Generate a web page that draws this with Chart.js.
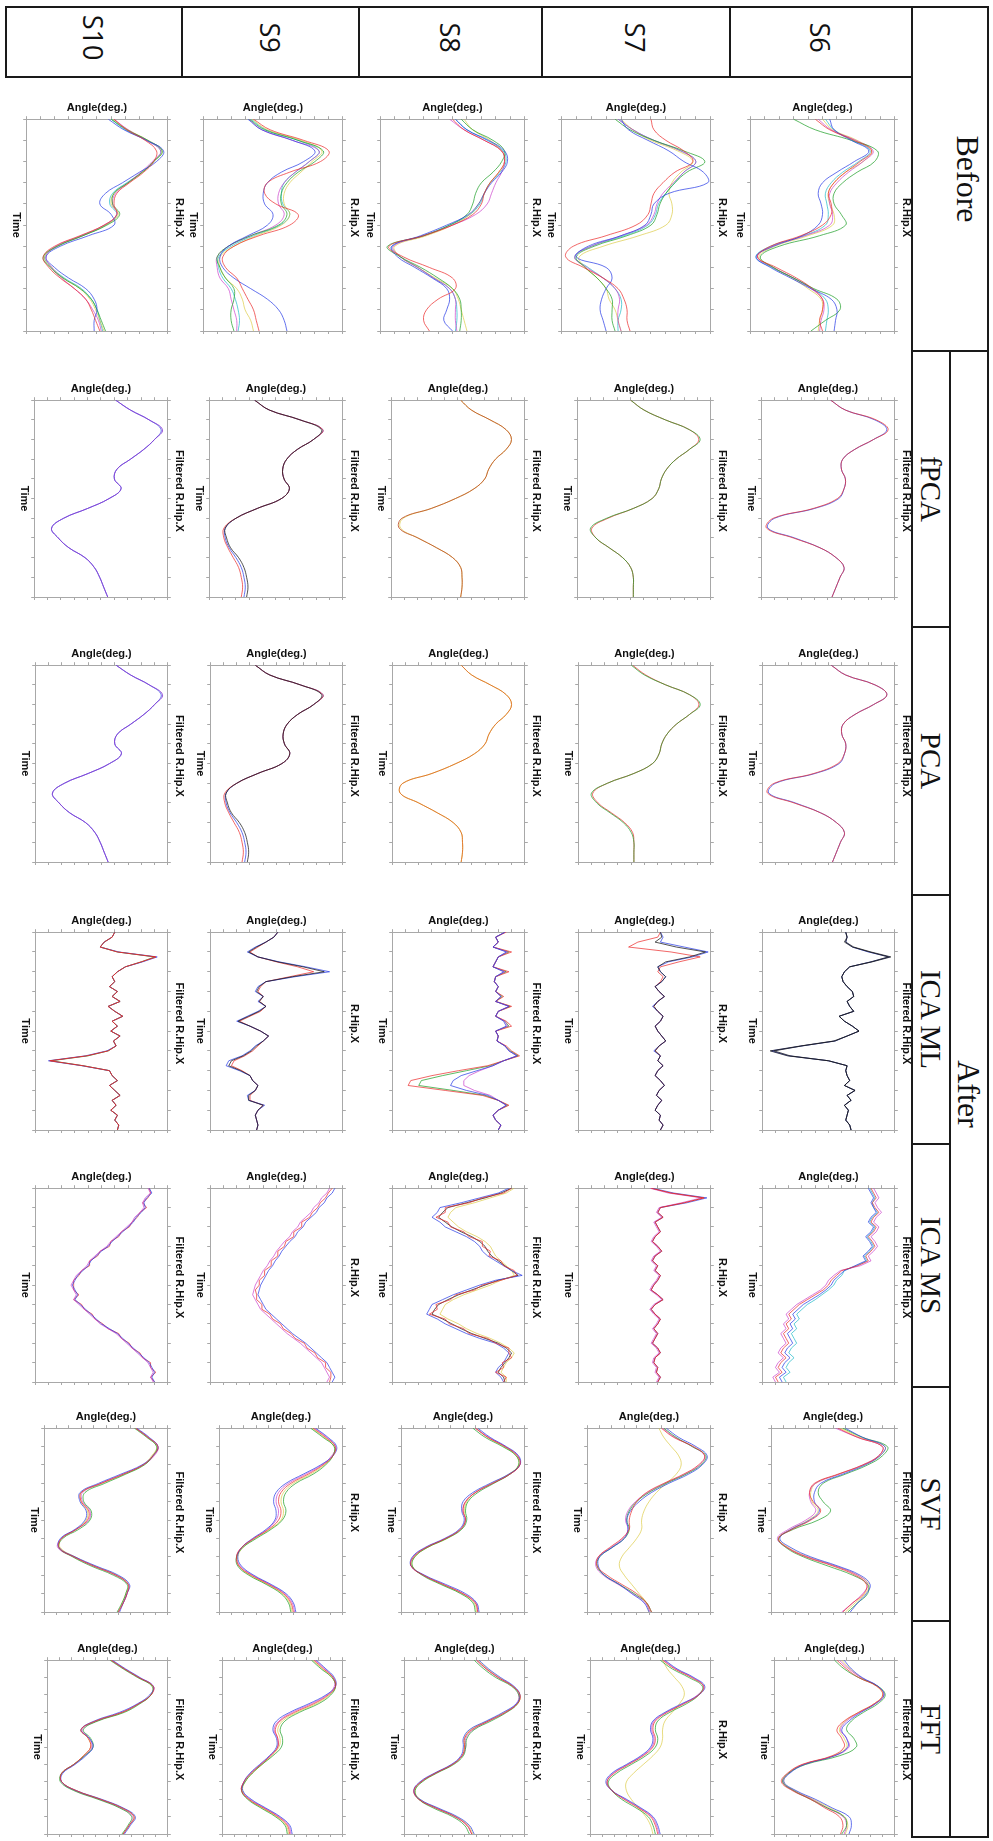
<!DOCTYPE html>
<html><head><meta charset="utf-8">
<script src="https://cdn.jsdelivr.net/npm/chart.js@4.4.1/dist/chart.umd.min.js"></script>
<style>
html,body{margin:0;padding:0;background:#fff;width:993px;height:1841px;overflow:hidden}
#land{position:absolute;left:0;top:0;width:1841px;height:993px;transform-origin:0 0;transform:translate(993px,0) rotate(90deg);background:#fff}
.cell{position:absolute;box-sizing:border-box;border:2px solid #1a1a1a;display:flex;justify-content:center;color:#111}
.serif{font-family:'Liberation Serif','DejaVu Serif',serif}
.sans{font-family:'Open Sans','Liberation Sans',sans-serif}
canvas{position:absolute}
</style></head><body><div id="land"></div>
<script>
// ---------- labels ----------
const subjects = ['S6','S7','S8','S9','S10'];
const methods = ['Before','fPCA','PCA','ICA ML','ICA MS','SVF','FFT'];
const groupHeaders = ['Before','After'];
const beforeTitles = ['R.Hip.X','R.Hip.X','R.Hip.X','R.Hip.X','R.Hip.X'];
const fpcaTitles = ['Filtered R.Hip.X','Filtered R.Hip.X','Filtered R.Hip.X','Filtered R.Hip.X','Filtered R.Hip.X'];
const pcaTitles = ['Filtered R.Hip.X','Filtered R.Hip.X','Filtered R.Hip.X','Filtered R.Hip.X','Filtered R.Hip.X'];
const icaMlTitles = ['Filtered R.Hip.X','R.Hip.X','Filtered R.Hip.X','R.Hip.X','Filtered R.Hip.X'];
const icaMsTitles = ['Filtered R.Hip.X','R.Hip.X','Filtered R.Hip.X','R.Hip.X','Filtered R.Hip.X'];
const svfTitles = ['Filtered R.Hip.X','R.Hip.X','Filtered R.Hip.X','R.Hip.X','Filtered R.Hip.X'];
const fftTitles = ['Filtered R.Hip.X','R.Hip.X','Filtered R.Hip.X','Filtered R.Hip.X','Filtered R.Hip.X'];
const xAxisTitle = 'Time';
const yAxisTitle = 'Angle(deg.)';

// ---------- series colours (first series is drawn on top) ----------
const palette = {
  red:'rgba(235,45,45,0.72)', blue:'rgba(40,60,230,0.72)', green:'rgba(30,160,40,0.72)',
  magenta:'rgba(200,50,200,0.65)', yellow:'rgba(215,195,40,0.6)', cyan:'rgba(30,185,200,0.7)',
  black:'rgba(25,25,25,0.75)', orange:'rgba(225,105,35,0.85)', redSolid:'rgba(230,45,40,0.95)',
  purple:'rgba(140,60,210,0.85)', brown:'rgba(190,80,40,0.85)'
};
const multiColors = ['red','blue','green','magenta','yellow','cyan'];
const fpcaColors = [['red','blue'],['green','red'],['brown','yellow'],['black','red','blue'],['purple','blue']];
const pcaColors = [['red','blue'],['green','red'],['orange','yellow'],['black','red','blue'],['purple','blue']];
const icaMlColors = [['black','black','blue'],['black','blue','red'],['blue','magenta','red','green'],['black','blue','red'],['redSolid','blue','green']];
const icaMsColors = [['red','blue','magenta','cyan'],['redSolid','blue','magenta'],['red','blue','yellow','black'],['red','blue','magenta'],['blue','magenta','red']];
const svfColors = [multiColors, ['red','blue','green','magenta','yellow'], multiColors, multiColors, multiColors];
const fftColors = [multiColors, ['red','blue','green','yellow','magenta'], multiColors, multiColors, multiColors];
const beforeColors = [multiColors, multiColors, multiColors, multiColors, multiColors];

// ---------- Before (R.Hip.X, 21 samples over the gait cycle) ----------
const s6Before = [
 [45,55,72,84,76,66,58,54,56,56,50,35,14,5,18,32,43,50,50,48,50],
 [55,58,70,82,72,60,50,47,49,50,47,36,16,4,14,28,42,56,60,59,58],
 [30,45,70,88,86,74,64,58,58,63,66,48,20,7,16,30,44,60,62,52,42],
 [47,56,73,85,78,68,60,55,55,57,55,38,15,5,16,30,42,50,51,49,48],
 [50,57,74,84,78,66,58,54,55,58,57,40,17,6,16,29,40,49,50,48,47],
 [52,58,71,83,75,64,56,52,53,54,52,37,14,4,15,30,43,52,54,53,52]];
const s7Before = [
 [60,62,70,82,88,76,68,62,60,58,50,30,8,3,15,28,38,42,44,44,46],
 [40,45,58,72,82,95,98,72,62,60,56,40,18,10,30,34,30,27,26,28,30],
 [36,46,62,82,96,84,76,70,66,64,60,44,22,10,16,24,30,34,34,34,36],
 [38,48,62,80,90,82,75,68,64,62,57,40,20,9,17,28,36,39,38,38,40],
 [40,48,60,78,88,80,74,72,74,74,70,52,28,12,16,24,30,32,36,38,40],
 [38,48,62,80,90,82,76,70,65,63,58,42,20,9,18,28,36,40,40,38,38]];
const s8Before = [
 [50,58,72,84,86,82,76,72,70,64,50,30,6,16,34,50,52,40,32,30,34],
 [52,60,75,86,88,84,77,72,68,61,46,28,8,12,24,36,46,48,46,44,50],
 [56,64,78,86,84,78,70,66,64,60,48,30,5,14,28,40,50,55,56,56,55],
 [48,58,72,84,86,84,80,77,74,66,50,30,9,14,26,37,48,52,52,52,53],
 [58,64,76,84,86,82,76,72,68,62,50,32,10,14,26,38,50,54,56,58,60],
 [52,60,74,85,87,83,76,72,69,62,48,30,8,14,26,37,48,52,53,53,52]];
const s9Before = [
 [36,48,72,90,84,62,46,44,52,68,62,40,22,14,16,24,28,32,36,38,40],
 [32,42,64,80,72,56,46,43,44,50,46,32,18,12,14,22,34,46,54,58,60],
 [33,44,68,86,80,68,60,56,56,60,54,34,18,10,12,16,22,22,20,20,22],
 [33,42,64,83,76,66,58,54,54,58,52,34,18,10,10,12,18,20,22,24,24],
 [35,46,70,85,78,70,62,58,58,62,56,38,22,12,12,16,24,28,30,34,36],
 [34,45,68,83,76,66,58,56,57,62,55,36,20,11,11,14,20,23,25,26,25]];
const s10Before = [
 [62,71,84,92,90,83,73,64,62,64,55,38,20,12,16,24,34,42,46,49,52],
 [58,69,85,97,92,80,68,56,52,60,62,44,24,14,20,30,42,48,50,48,48],
 [60,71,86,96,90,82,72,62,61,66,57,40,22,12,17,26,38,46,50,53,56],
 [62,72,85,95,89,81,72,63,61,64,55,39,21,14,18,25,34,42,47,51,53],
 [61,72,86,96,90,82,72,62,60,65,56,40,22,13,18,26,38,45,49,52,55],
 [60,70,85,95,90,82,71,61,59,64,56,40,22,13,18,27,39,46,50,52,54]];

// ---------- fPCA ----------
const s6Fpca = [
 [52,63,86,95,84,70,61,60,63,62,57,39,9,4,24,44,56,62,59,56,53],
 [52,63,85,94,84,70,61,60,63,62,58,40,10,5,25,44,56,62,59,56,53]];
const s7Fpca = [
 [40,50,66,84,92,84,74,67,63,61,56,42,22,10,14,24,34,40,42,42,42],
 [40,50,66,84,91,84,74,67,63,61,56,42,23,11,14,24,34,40,42,42,42]];
const s8Fpca = [
 [52,60,74,86,90,86,78,73,70,62,48,30,8,6,20,34,46,52,53,53,52],
 [52,60,74,86,90,86,78,73,70,62,48,30,9,7,20,34,46,52,53,53,52]];
const s9Fpca = [
 [34,45,68,84,78,66,58,55,56,60,54,36,20,12,13,16,22,26,28,29,28],
 [34,45,68,85,78,66,58,55,56,60,54,36,20,11,11,14,18,22,24,25,24],
 [34,45,68,85,78,66,58,55,56,60,54,36,20,12,12,15,20,24,26,27,26]];
const s10Fpca = [
 [61,72,86,96,90,82,72,62,60,65,56,40,22,13,18,26,38,45,49,52,55],
 [61,72,86,95,90,82,72,62,60,65,56,40,22,13,18,26,38,45,49,52,55]];

// ---------- PCA ----------
const s6Pca = [
 [52,63,85,94,84,70,61,60,63,62,57,39,9,4,24,44,56,62,59,56,53],
 [52,63,85,94,84,70,61,60,63,62,58,40,10,5,25,44,56,62,59,56,53]];
const s7Pca = [
 [40,50,66,84,92,84,74,67,63,61,56,42,22,10,14,24,34,40,42,42,42],
 [41,51,66,84,91,84,74,67,63,61,56,42,22,11,15,25,35,41,42,42,42]];
const s8Pca = [
 [52,60,74,86,90,86,78,73,70,62,48,30,8,6,20,34,46,52,53,53,52],
 [52,60,74,86,90,86,78,73,70,62,48,30,8,6,20,34,46,52,53,53,52]];
const s9Pca = [
 [34,45,68,84,78,66,58,55,56,60,54,36,20,12,13,16,22,26,28,29,28],
 [34,45,68,85,78,66,58,55,56,60,54,36,20,11,11,14,18,22,24,25,24],
 [34,45,68,85,78,66,58,55,56,60,54,36,20,12,12,15,20,24,26,27,26]];
const s10Pca = [
 [61,72,86,96,90,82,72,62,60,65,56,40,22,13,18,26,38,45,49,52,55],
 [61,72,86,95,90,82,72,62,60,65,56,40,22,13,18,26,38,45,49,52,55]];

// ---------- ICA ML (41 samples) ----------
const s6IcaMl = [
 [63,64,62,68,81,95,82,66,62,60,61,64,68,69,64,66,69,58,62,68,73,64,55,30,9,21,50,64,63,64,66,62,70,64,67,62,65,64,63,66,67],
 [63,64,63,69,82,97,83,66,62,60,61,64,68,69,64,66,69,58,62,68,73,64,54,29,6,19,50,64,63,64,66,62,70,64,67,62,65,64,63,66,67],
 [63,64,63,68,80,96,82,66,62,60,61,64,68,69,64,66,69,58,62,68,73,64,55,30,7,20,50,64,63,64,66,62,70,64,67,62,65,64,63,66,67]];
const s7IcaMl = [
 [62,63,58,74,96,84,66,60,62,66,63,58,61,65,60,57,60,64,62,58,60,63,66,61,58,62,60,64,60,58,62,65,61,59,63,60,58,62,61,64,62],
 [62,64,62,80,98,86,68,60,62,66,63,58,61,65,60,56,60,64,62,58,60,63,66,61,57,62,60,64,60,58,62,65,61,59,63,60,58,62,61,64,62],
 [62,60,45,38,70,92,76,62,60,64,62,58,61,65,60,57,60,64,62,58,60,63,66,61,58,62,60,64,60,58,62,65,61,59,63,60,58,62,61,64,62]];
const s8IcaMl = [
 [85,78,80,76,86,80,78,76,84,78,77,80,78,82,78,88,80,78,84,86,78,80,79,85,88,94,84,76,64,52,46,44,56,72,80,86,80,76,78,82,80],
 [85,78,80,76,87,80,78,76,85,78,77,80,78,82,78,88,80,78,85,87,78,80,79,85,88,94,84,76,66,58,54,54,62,74,80,86,80,76,78,82,80],
 [86,78,80,76,90,80,78,76,88,78,77,80,78,84,78,90,80,78,86,90,78,80,79,86,90,96,84,72,50,30,14,12,40,68,80,88,80,76,78,82,80],
 [85,78,80,76,88,80,78,76,86,78,77,80,78,83,78,89,80,78,85,88,78,80,79,85,89,95,84,74,56,38,22,20,46,70,80,87,80,76,78,82,80]];
const s9IcaMl = [
 [51,48,42,35,29,36,51,70,86,62,42,37,35,40,37,42,37,29,21,30,38,44,40,35,31,25,16,14,23,30,32,36,34,29,29,40,36,34,35,36,35],
 [51,48,42,34,28,36,52,72,90,64,42,36,34,40,36,42,36,28,20,30,38,44,40,34,30,24,14,12,22,30,32,36,34,28,29,41,36,34,35,36,35],
 [51,48,42,36,30,36,50,66,78,60,42,38,36,40,37,42,38,30,22,30,38,44,40,36,32,26,18,16,24,30,32,36,34,30,30,40,36,34,35,36,35]];
const s10IcaMl = [
 [60,58,52,49,62,91,80,68,62,58,60,56,62,58,64,55,60,66,58,62,57,64,59,61,55,39,11,36,56,58,62,56,60,64,58,61,57,62,60,63,62],
 [60,58,52,49,63,92,81,68,62,58,60,56,62,58,64,55,60,66,58,62,57,64,59,61,54,38,10,35,56,58,62,56,60,64,58,61,57,62,60,63,62],
 [60,58,52,49,62,90,80,68,62,58,60,56,62,58,64,55,60,66,58,62,57,64,59,61,55,40,12,36,56,58,62,56,60,64,58,61,57,62,60,63,62]];

// ---------- ICA MS (41 samples) ----------
const s6IcaMs = [
 [82,84,86,83,85,88,84,82,86,84,80,83,85,82,78,80,72,60,56,52,50,46,40,34,28,24,20,22,18,20,16,18,20,16,14,18,14,12,15,10,12],
 [80,82,84,82,84,86,82,80,84,82,78,81,83,80,76,78,70,62,58,54,52,48,43,37,31,27,23,25,21,23,19,21,23,19,17,21,17,15,18,13,15],
 [84,86,88,85,87,90,86,84,88,86,82,85,87,84,80,82,74,59,54,50,48,44,38,32,26,22,18,20,16,18,14,16,18,14,12,16,12,10,13,8,10],
 [81,83,85,83,84,87,83,81,85,83,79,82,84,81,77,79,71,62,60,56,54,50,45,40,34,30,26,28,24,26,22,24,26,22,20,24,20,18,21,16,18]];
const s7IcaMs = [
 [55,70,95,80,62,60,64,58,60,62,58,56,60,63,58,56,60,58,62,60,57,55,60,64,58,55,58,62,60,57,60,58,56,60,62,58,57,60,59,62,60],
 [56,72,97,82,62,60,64,58,60,62,58,56,60,63,58,56,60,58,62,60,57,55,60,64,58,55,58,62,60,57,60,58,56,60,62,58,57,60,59,62,60],
 [54,68,93,78,61,59,63,57,59,61,57,55,59,62,57,55,59,57,61,59,56,54,59,63,57,54,57,61,59,56,59,57,55,59,61,57,56,59,58,61,59]];
const s8IcaMs = [
 [90,84,68,58,40,40,33,42,44,54,58,68,68,74,73,82,84,92,94,82,68,62,48,44,33,34,28,40,43,54,58,72,78,88,88,90,83,84,78,86,84],
 [88,80,66,52,36,34,30,36,40,48,56,62,66,68,72,78,84,90,98,78,66,56,46,38,30,28,26,34,40,48,56,66,78,84,88,86,84,80,78,82,84],
 [92,86,74,62,48,44,42,46,50,56,64,70,74,76,78,82,86,90,92,82,74,64,54,46,40,38,36,42,50,56,64,74,82,88,92,90,86,84,82,86,86],
 [90,82,70,56,42,38,35,40,45,52,60,66,70,72,75,80,85,90,95,80,70,60,50,42,35,32,30,38,45,52,60,70,80,86,90,88,85,82,80,84,85]];
const s9IcaMs = [
 [92,89,87,83,81,77,75,69,69,63,63,57,56,51,51,46,46,41,41,37,37,34,35,35,39,39,45,47,53,55,61,64,71,73,79,81,87,87,91,91,90],
 [94,92,88,86,82,80,76,72,70,66,64,60,57,54,52,49,47,44,42,40,38,37,36,38,40,42,46,50,54,58,62,67,72,76,80,84,88,90,92,94,92],
 [90,88,84,82,78,76,72,68,66,62,60,56,53,50,48,45,43,40,38,36,34,33,32,34,36,38,42,46,50,54,58,63,68,72,76,80,84,86,88,90,88]];
const s10IcaMs = [
 [86,88,84,82,83,80,76,74,70,66,62,58,55,50,46,42,40,36,32,30,28,30,32,30,34,38,42,46,50,56,62,66,70,74,78,82,86,88,90,88,90],
 [85,87,83,81,82,79,75,73,69,65,61,57,54,49,45,41,39,35,31,29,27,29,31,29,33,37,41,45,49,55,61,65,69,73,77,81,85,87,89,87,89],
 [86,87,85,81,84,79,77,73,71,65,63,57,56,49,47,41,41,35,33,29,29,29,33,29,35,37,43,45,51,55,63,65,71,73,79,81,87,87,91,87,90]];

// ---------- SVF ----------
const s6Svf = [
 [54,70,90,87,74,54,35,31,34,40,32,17,6,13,28,50,68,77,75,66,58],
 [60,74,92,88,76,58,40,35,35,39,31,16,7,16,32,54,72,80,77,70,64],
 [58,74,94,90,78,60,42,38,42,48,38,18,6,12,26,46,66,78,78,70,62],
 [52,70,90,87,74,55,36,31,32,36,28,14,5,13,29,52,70,78,74,66,57],
 [56,72,92,88,75,55,36,32,33,38,30,16,6,14,30,52,70,79,76,68,60]];
const s7Svf = [
 [60,70,86,95,90,78,62,48,40,36,34,34,28,18,9,8,16,28,40,48,52],
 [64,74,88,97,93,82,66,52,42,35,32,33,30,20,10,9,14,26,36,46,50],
 [62,72,85,96,92,80,64,50,40,34,32,34,30,20,10,8,14,26,38,48,52],
 [61,71,85,95,91,79,63,49,39,33,31,33,29,19,9,7,13,25,37,47,51],
 [58,62,68,74,76,72,64,56,50,46,44,44,40,34,28,26,30,36,42,48,50]];
const s8Svf = [
 [60,70,84,94,96,88,74,60,52,50,52,48,36,20,10,8,18,34,50,60,62],
 [62,72,85,95,96,87,72,58,50,49,51,47,35,19,9,8,19,36,52,61,63],
 [58,68,82,93,95,88,75,62,54,52,53,49,37,21,11,9,17,32,48,58,60],
 [60,71,84,94,96,88,74,60,52,50,52,48,36,20,10,8,18,34,50,60,62],
 [61,70,83,93,95,87,73,60,53,51,52,48,37,21,11,9,18,33,49,59,61]];
const s9Svf = [
 [76,86,94,92,84,72,58,50,48,50,48,40,28,18,14,16,26,40,52,58,60],
 [78,88,95,92,82,68,54,46,44,46,45,38,27,18,15,18,28,42,54,60,62],
 [74,84,93,92,86,76,62,54,52,54,51,42,30,19,14,15,24,38,50,56,58],
 [77,87,94,91,83,70,56,48,46,48,46,39,28,18,14,17,27,41,53,59,61],
 [75,85,93,92,85,74,60,52,50,52,50,41,29,19,15,16,25,39,51,57,59]];
const s10Svf = [
 [74,84,92,88,80,64,46,30,30,36,35,26,14,12,24,40,58,68,67,64,60],
 [75,85,92,88,79,62,44,29,29,34,33,25,13,12,25,42,60,69,67,64,61],
 [73,83,91,88,81,66,49,33,32,38,37,28,15,12,23,38,56,67,66,63,59],
 [74,84,92,89,80,64,46,31,31,37,36,26,14,11,24,40,58,68,67,64,60],
 [74,84,91,87,80,65,47,30,30,35,34,26,14,13,25,41,59,68,66,63,60]];

// ---------- FFT ----------
const s6Fft = [
 [52,60,70,85,90,83,70,58,52,56,58,48,23,11,6,15,30,42,54,57,55],
 [58,64,73,86,91,84,72,62,56,60,61,50,25,13,8,18,34,48,62,64,62],
 [50,58,70,86,92,86,74,64,60,66,68,54,26,12,7,16,30,44,58,60,56],
 [54,62,72,86,91,84,71,60,55,60,62,50,24,12,7,16,31,44,57,60,58],
 [56,63,72,85,90,83,70,59,54,58,60,49,24,12,8,17,32,46,58,61,59]];
const s7Fft = [
 [60,70,84,94,90,78,64,54,52,54,52,44,32,20,14,18,28,40,50,54,56],
 [62,72,86,95,90,76,62,52,50,52,50,42,30,18,13,18,30,42,52,56,58],
 [58,68,82,93,90,80,66,56,54,56,54,46,34,22,15,18,26,38,48,52,54],
 [60,64,70,76,78,74,68,62,60,60,58,52,44,36,30,30,34,40,46,50,52],
 [61,71,85,94,89,77,63,53,51,53,51,43,31,19,14,18,29,41,51,55,57]];
const s8Fft = [
 [60,68,78,90,96,94,84,70,56,50,50,48,40,26,14,8,12,26,42,52,56],
 [62,70,80,91,96,93,82,68,54,49,49,47,39,25,13,8,13,28,44,54,58],
 [58,66,76,89,95,94,85,72,58,52,51,49,41,27,15,9,12,24,40,50,54],
 [60,68,78,90,95,93,84,70,57,51,51,48,40,26,14,8,12,26,42,52,56],
 [61,69,79,90,96,94,83,69,55,50,50,48,40,26,14,9,13,27,43,53,57]];
const s9Fft = [
 [76,84,92,94,88,76,60,48,44,46,46,40,32,24,18,16,22,34,46,54,56],
 [78,86,93,94,86,72,56,45,42,45,45,39,31,23,18,17,24,36,48,56,58],
 [74,82,91,94,90,80,64,52,48,50,49,42,33,25,19,16,21,32,44,52,54],
 [77,85,92,93,87,74,58,47,43,46,46,40,32,24,18,16,23,35,47,55,57],
 [75,83,91,94,89,78,62,50,46,48,47,41,33,25,19,17,22,33,45,53,55]];
const s10Fft = [
 [53,64,76,88,86,76,62,40,28,34,36,30,22,12,12,24,44,62,72,68,63],
 [54,65,77,88,85,75,60,39,28,35,38,32,23,13,12,24,45,63,73,69,64],
 [52,63,75,87,86,77,64,42,30,36,38,31,22,12,11,22,42,60,70,67,62],
 [53,64,76,88,86,76,62,41,29,35,37,31,22,12,12,23,43,61,71,68,63],
 [53,64,76,87,86,76,63,41,28,34,36,30,22,12,12,24,44,62,72,68,63]];

const before = [s6Before, s7Before, s8Before, s9Before, s10Before];
const fpca = [s6Fpca, s7Fpca, s8Fpca, s9Fpca, s10Fpca];
const pca = [s6Pca, s7Pca, s8Pca, s9Pca, s10Pca];
const icaMl = [s6IcaMl, s7IcaMl, s8IcaMl, s9IcaMl, s10IcaMl];
const icaMs = [s6IcaMs, s7IcaMs, s8IcaMs, s9IcaMs, s10IcaMs];
const svf = [s6Svf, s7Svf, s8Svf, s9Svf, s10Svf];
const fft = [s6Fft, s7Fft, s8Fft, s9Fft, s10Fft];

// ---------- layout (landscape coordinates, page is rotated 90deg clockwise) ----------
const land = document.getElementById('land');
function cell(x0, y0, x1, y1, text, cls, size) {
  const d = document.createElement('div');
  d.className = 'cell ' + cls;
  d.style.left = x0 + 'px'; d.style.top = y0 + 'px';
  d.style.width = (x1 - x0 + 2) + 'px'; d.style.height = (y1 - y0 + 2) + 'px';
  d.style.fontSize = size + 'px';
  d.style.alignItems = 'center';
  d.textContent = text;
  land.appendChild(d);
  return d;
}
const colEdges = [350, 626, 894, 1143, 1386, 1620, 1836];
const rowEdges = [80, 262, 450, 633, 810, 986];
const hb = cell(6, 4, colEdges[0], rowEdges[0], groupHeaders[0], 'serif', 32);
hb.style.alignItems = 'flex-start'; hb.style.paddingTop = '1px';
cell(colEdges[0], 4, colEdges[6], 42, groupHeaders[1], 'serif', 32);
for (let i = 1; i < methods.length; i++) cell(colEdges[i-1], 42, colEdges[i], rowEdges[0], methods[i], 'serif', 29);
for (let r = 0; r < subjects.length; r++) {
  const s = cell(6, rowEdges[r], 76, rowEdges[r+1], subjects[r], 'sans', 27);
  s.style.paddingRight = '9px';
}

const plotCols = [[119,331],[400,597],[665,862],[932,1130],[1188,1382],[1428,1612],[1660,1834]];
const plotTops = [98, 282, 468, 650, 825];
const beforeHeights = [145, 150, 145, 140, 142];
const afterHeights = [134, 134, 133, 133, 133, 124, 121];

const fontSpec = {family:"'Liberation Sans', Arial, sans-serif", size:11, weight:'bold'};
const gridSpec = {display:true, drawOnChartArea:false, drawTicks:true, tickLength:3, color:'#a8a8a8', lineWidth:1};
const borderSpec = {display:true, color:'#a8a8a8', width:1};
const M = {l:18, t:18, r:3, b:17};

function drawChart(px0, py0, pw, ph, title, series, colors, smooth) {
  const c = document.createElement('canvas');
  const w = pw + M.l + M.r, h = ph + M.t + M.b;
  c.width = w; c.height = h;
  c.style.left = (px0 - M.l) + 'px'; c.style.top = (py0 - M.t) + 'px';
  c.style.width = w + 'px'; c.style.height = h + 'px';
  land.appendChild(c);
  const n = series[0].length;
  const labels = series[0].map((_, i) => i * 100 / (n - 1));
  const axisBase = {type:'linear', min:0, max:100, ticks:{display:false, stepSize:10}, grid:gridSpec, border:borderSpec};
  new Chart(c, {
    type:'line',
    data:{labels, datasets: series.map((d, k) => ({
      data:d, borderColor: palette[colors[k % colors.length]], borderWidth:1, pointRadius:0,
      tension: smooth ? 0.4 : 0, fill:false }))},
    options:{
      responsive:false, animation:false, devicePixelRatio:1,
      layout:{padding:0},
      plugins:{legend:{display:false}, tooltip:{enabled:false},
        title:{display:true, text:title, color:'#111', font:fontSpec, padding:{top:0, bottom:2}}},
      scales:{
        x: Object.assign({}, axisBase, {position:'bottom', title:{display:true, text:xAxisTitle, color:'#111', font:fontSpec, padding:{top:1, bottom:0}}}),
        y: Object.assign({}, axisBase, {position:'left', title:{display:true, text:yAxisTitle, color:'#111', font:fontSpec, padding:{top:0, bottom:2}}}),
        x2: Object.assign({}, axisBase, {position:'top'}),
        y2: Object.assign({}, axisBase, {position:'right'})
      }
    }
  });
}

const allData = [before, fpca, pca, icaMl, icaMs, svf, fft];
const allTitles = [beforeTitles, fpcaTitles, pcaTitles, icaMlTitles, icaMsTitles, svfTitles, fftTitles];
const allColors = [beforeColors, fpcaColors, pcaColors, icaMlColors, icaMsColors, svfColors, fftColors];
for (let m = 0; m < methods.length; m++) {
  for (let r = 0; r < subjects.length; r++) {
    const [x0, x1] = plotCols[m];
    const ph = m === 0 ? beforeHeights[r] : afterHeights[m];
    drawChart(x0, plotTops[r], x1 - x0, ph, allTitles[m][r], allData[m][r], allColors[m][r], m !== 3 && m !== 4);
  }
}
</script></body></html>
